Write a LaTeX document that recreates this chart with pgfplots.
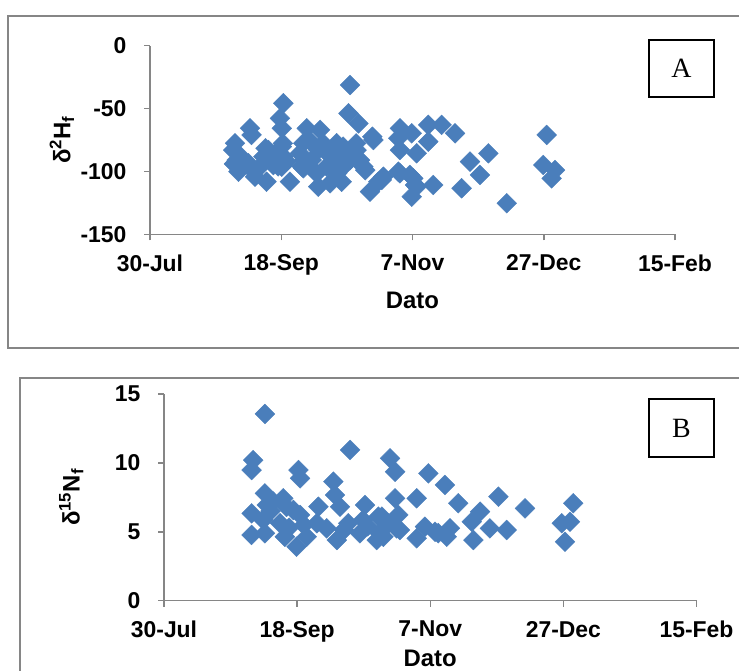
\documentclass[border=0pt]{standalone}
\usepackage{fontspec}
\setmainfont{Liberation Sans}
\newfontfamily\seriffont{Liberation Serif}
\usepackage{pgfplots}
\pgfplotsset{compat=1.18}
\definecolor{mk}{RGB}{74,126,187}
\definecolor{ax}{RGB}{134,134,134}
\pgfplotstableread{
d v
32.4 -77.6
31.7 -83
33 -91
33.7 -100.2
34.5 -88
32 -94
38.1 -65.7
38.7 -71
37.5 -93.5
39 -99
40 -104.2
41.9 -96.2
43.2 -88.3
44 -81.6
45.1 -83
45.7 -91
44.4 -108.2
47 -95
48 -91
49.5 -57.8
50.8 -45.8
50.2 -65.7
50.6 -77.7
50.2 -80.3
50.8 -88.3
50.2 -96.2
48.8 -96
53.3 -108.2
52 -92
57.1 -85.6
58.4 -77.6
59.7 -65.7
58.4 -97.5
58.7 -91
57.8 -96
60.5 -75
61.6 -91
63.5 -101.5
64.1 -112.1
64.1 -83
64.8 -67
65.9 -77.7
66.8 -84
67.3 -96.2
68.6 -109.4
70.5 -91
71.1 -77.6
72 -85.6
71.3 -101.5
73 -108.2
73.6 -80.3
73.6 -96.2
74 -93.6
75.6 -53.8
76.2 -31.3
76.2 -91
78.7 -83
78.5 -77.7
79.4 -61.8
80 -91
81.3 -96.2
82 -99
84.7 -72.4
85.1 -75
83.8 -116.1
87 -108.2
88.9 -104.2
88.3 -106.8
95.2 -65.7
94.6 -73.6
95.2 -83
94.6 -100.2
95.2 -101.5
99.7 -69.7
101.6 -85.6
99 -102.8
100.3 -105.5
101.6 -112.1
101 -110.8
99.7 -120.1
106 -63
106 -76.3
107.9 -110.8
111.1 -63
116.2 -69.7
118.7 -113.4
121.9 -92.2
125.7 -102.8
128.9 -85.6
135.9 -125.3
151.1 -71
149.8 -94.9
154.3 -98.9
153 -105.5
}\dataA
\pgfplotstableread{
d v
37.9 13.55
33.5 10.2
32.9 9.48
32.9 6.34
32.9 4.77
37.9 7.79
38.6 6.94
37.3 5.86
37.9 4.89
40 6.5
41 7.2
44.8 7.43
46 6.8
43.6 5.62
45.4 4.64
47 5.3
49.8 3.92
48.6 6.58
51.1 6.22
53.6 4.64
52.5 5.5
50.5 9.48
51.1 8.88
58 6.82
57.4 5.62
61.1 5.25
63.6 8.64
64.2 7.67
66.1 6.82
64.9 4.4
67.6 5.14
69.2 5.62
69.9 10.94
73.6 4.89
75.5 6.94
74.7 5.86
76.5 5.4
79.9 4.4
80.5 6.1
81.8 6.1
80.9 4.9
84.9 10.33
86.8 9.36
86.8 7.43
88 6.22
88.6 5.13
84.4 5.6
82.4 4.64
87.4 5.25
94.9 7.43
94.9 4.53
98 5.37
99.3 9.24
101.8 5
103 4.9
105.5 8.4
106.2 4.64
107.4 5.25
110.5 7.07
115.6 5.73
116.2 4.4
118.7 6.46
122.4 5.25
125.6 7.55
128.7 5.13
135.6 6.7
149.4 5.62
150.6 4.28
152.5 5.73
153.7 7.07
}\dataB
\begin{document}
\begin{tikzpicture}[x=1bp,y=1bp]
\useasboundingbox (0,0) rectangle (739,671);
\draw[ax, line width=1.5bp] (8,655) rectangle (780,323);
\draw[ax, line width=1.5bp] (20,293) rectangle (780,-30);
\pgfplotsset{myax/.style={
  scale only axis, anchor=south west,
  axis x line*=bottom, axis y line*=left,
  axis line style={ax, line width=1.5bp, -},
  tick align=outside, major tick length=6bp,
  tick style={ax, line width=1.5bp},
  xmin=0, xmax=200,
  xtick={0,50,100,150,200},
  xticklabels={30-Jul,18-Sep,7-Nov,27-Dec,15-Feb},
  tick label style={font=\fontsize{23}{23}\selectfont\bfseries},
  label style={font=\fontsize{24}{24}\selectfont\bfseries},
  yticklabel style={xshift=-14bp},
  xticklabel style={yshift=-11bp},
  clip=false,
}}
\begin{axis}[myax, at={(150bp,436.7bp)}, width=525bp, height=188.6bp,
  ymin=-150, ymax=0, ytick={-150,-100,-50,0}, yticklabels={-150,-100,-50,0},
  xlabel={Dato}, xlabel style={at={(axis description cs:0.5,-0.349)}, anchor=center},
  ylabel={δ\textsuperscript{2}H\textsubscript{f}}, ylabel style={at={(axis description cs:-0.168,0.5)}, anchor=center}]
\addplot[only marks, mark=square*, mark size=7bp, color=mk, mark options={rotate=45, fill=mk, draw=mk}] table[x=d,y=v] {\dataA};
\end{axis}
\begin{axis}[myax, at={(164bp,70.3bp)}, width=532.5bp, height=206.7bp,
  ymin=0, ymax=15, ytick={0,5,10,15}, yticklabels={0,5,10,15},
  xlabel={Dato}, xlabel style={at={(axis description cs:0.5,-0.28)}, anchor=center},
  ylabel={δ\textsuperscript{15}N\textsubscript{f}}, ylabel style={at={(axis description cs:-0.174,0.5)}, anchor=center}]
\addplot[only marks, mark=square*, mark size=7bp, color=mk, mark options={rotate=45, fill=mk, draw=mk}] table[x=d,y=v] {\dataB};
\end{axis}
\draw[line width=1.5bp, fill=white] (649,631) rectangle (714,574);
\node at (681.5,602.5) {\seriffont\fontsize{28}{28}\selectfont A};
\draw[line width=1.5bp, fill=white] (649,272) rectangle (714,214);
\node at (681.5,243) {\seriffont\fontsize{28}{28}\selectfont B};
\end{tikzpicture}
\end{document}
